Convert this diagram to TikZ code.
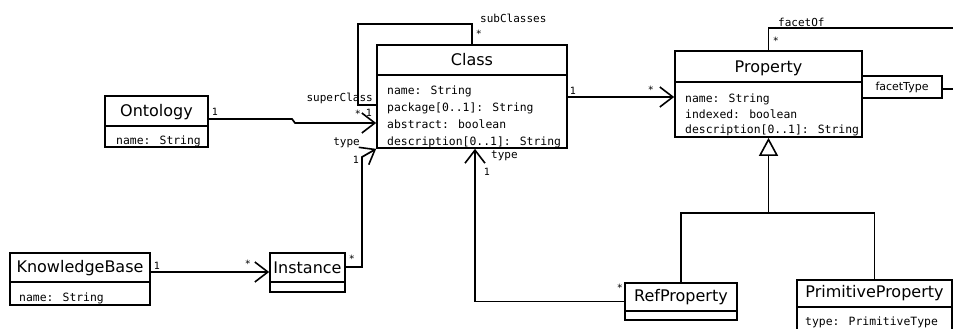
\documentclass[tikz,border=0pt]{standalone}
\usepackage{fontspec}
\setmainfont{DejaVu Sans}
\newfontfamily\monof{DejaVu Sans Mono}
\usetikzlibrary{arrows.meta}
\begin{document}
\begin{tikzpicture}[x=1pt,y=-1pt,
  box/.style={draw, line width=1.7pt, rectangle, inner sep=0pt},
  title/.style={font=\fontsize{16}{17}\selectfont, inner sep=0pt},
  attr/.style={font=\monof\fontsize{11.4}{12}\selectfont, inner sep=0pt, anchor=base west},
  lab/.style={font=\monof\fontsize{11}{12}\selectfont, inner sep=0pt},
  mult/.style={font=\monof\fontsize{10}{11}\selectfont, inner sep=0pt},
  conn/.style={line width=1.7pt},
  divline/.style={line width=1.6pt},
  assoc/.style={conn, -{Straight Barb[length=13pt,width=20pt,line width=1.6pt]}},
  gen/.style={conn, -{Triangle[open,length=18pt,width=19pt,line width=1.6pt]}},
]
\useasboundingbox (0,0) rectangle (953,329);

% ---------- Class ----------
\node[box, minimum width=190pt, minimum height=103pt] (cls) at (472,96.5) {};
\draw[divline] (cls.west |- 0,75) -- (cls.east |- 0,75);
\node[title] (clsT) at (472,60) {Class};
\node[attr] (clsA1) at (387,94) {name: String};
\node[attr] (clsA2) at (387,111) {package[0..1]: String};
\node[attr] (clsA3) at (387,128) {abstract: boolean};
\node[attr] (clsA4) at (387,145) {description[0..1]: String};

% ---------- Property ----------
\node[box, minimum width=187pt, minimum height=86pt] (prop) at (768.5,94) {};
\draw[divline] (prop.west |- 0,82) -- (prop.east |- 0,82);
\node[title] (propT) at (768.5,68) {Property};
\node[attr] (propA1) at (685,102) {name: String};
\node[attr] (propA2) at (685,118) {indexed: boolean};
\node[attr] (propA3) at (685,133.5) {description[0..1]: String};

% ---------- Ontology ----------
\node[box, minimum width=103pt, minimum height=51pt] (onto) at (156.5,121.5) {};
\draw[divline] (onto.west |- 0,126) -- (onto.east |- 0,126);
\node[title] (ontoT) at (156.5,112) {Ontology};
\node[attr] (ontoA1) at (116,144) {name: String};

% ---------- KnowledgeBase ----------
\node[box, minimum width=140pt, minimum height=52pt] (kb) at (80,279) {};
\draw[divline] (kb.west |- 0,282) -- (kb.east |- 0,282);
\node[title] (kbT) at (80,268.5) {KnowledgeBase};
\node[attr] (kbA1) at (19,301) {name: String};

% ---------- Instance ----------
\node[box, minimum width=75pt, minimum height=39pt] (inst) at (307.5,272.5) {};
\draw[divline] (inst.west |- 0,282) -- (inst.east |- 0,282);
\node[title] (instT) at (307.5,268) {Instance};

% ---------- RefProperty ----------
\node[box, minimum width=112pt, minimum height=37pt] (refp) at (681,301.5) {};
\draw[divline] (refp.west |- 0,311) -- (refp.east |- 0,311);
\node[title] (refpT) at (681,297.5) {RefProperty};

% ---------- PrimitiveProperty ----------
\node[box, minimum width=155pt, minimum height=60pt] (prim) at (874.5,310) {};
\draw[divline] (prim.west |- 0,307) -- (prim.east |- 0,307);
\node[title] (primT) at (874.5,293) {PrimitiveProperty};
\node[attr] (primA1) at (805,325.5) {type: PrimitiveType};

% ---------- facetType qualifier ----------
\node[box, line width=1.6pt, minimum width=80pt, minimum height=22pt,
      font=\fontsize{11}{12}\selectfont] (ft) at (902,87) {facetType};

% ---------- connectors ----------
% subClasses / superClass self association
\draw[conn] (cls.north) -- ++(0,-20) -| (358,105) -- (cls.west |- 0,105);
\node[lab, anchor=west] (lSub) at (480,18) {subClasses};
\node[mult] (mSub) at (479,34) {*};
\node[lab, anchor=east] (lSup) at (373,98) {superClass};
\node[mult] (mSup1) at (369,113) {1};

% Ontology -> Class
\draw[assoc] (onto.east |- 0,119) -- (292,119) -- (295,123) -- (cls.west |- 0,123);
\node[mult] (mOnto1) at (215,112) {1};
\node[mult] (mOntoS) at (358,114) {*};

% Instance -> Class (type)
\draw[assoc] (inst.east |- 0,267) -| (362,157) -- (cls.south west);
\node[mult] (mInstS) at (352,259) {*};
\node[lab, anchor=east] (lType1) at (360,143) {type};
\node[mult] (mType1) at (356,160) {1};

% KnowledgeBase -> Instance
\draw[assoc] (kb.east |- 0,272) -- (inst.west |- 0,272);
\node[mult] (mKb1) at (157,266) {1};
\node[mult] (mKbS) at (248,264) {*};

% RefProperty -> Class (type)
\draw[assoc] (refp.west) -| (cls.south -| 475,0);
\node[lab, anchor=west] (lType2) at (491,156) {type};
\node[mult] (mType2) at (487,172) {1};
\node[mult] (mRefS) at (620,288) {*};

% Class -> Property
\draw[assoc] (cls.east |- 0,97) -- (prop.west |- 0,97);
\node[mult] (mCls1) at (573,91) {1};
\node[mult] (mPropS) at (651,90) {*};

% facetOf
\coordinate (foEnd) at (953,28);
\draw[conn] (prop.north) |- (foEnd);
\node[lab, anchor=west] (lFacetOf) at (778,22) {facetOf};
\node[mult] (mFacetOf) at (776,41) {*};

% facetType qualifier line
\coordinate (ftEnd) at (953,89);
\draw[conn] (ft.east |- 0,89) -- (ftEnd);

% generalization
\draw[conn] (refp.north) |- (prim.north |- 0,213) -- (prim.north);
\draw[gen] (prop.south |- 0,213) -- (prop.south);
\end{tikzpicture}
\end{document}
